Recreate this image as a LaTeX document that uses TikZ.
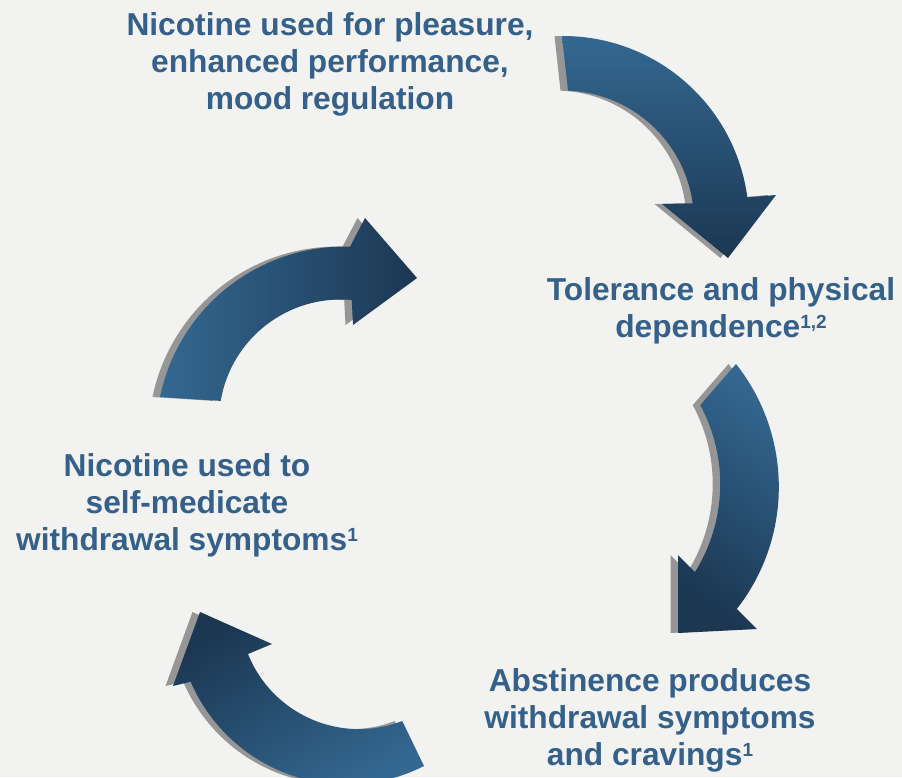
\documentclass[tikz,border=0pt]{standalone}
\usepackage{fontspec}
\setmainfont{Liberation Sans}
\definecolor{bg}{RGB}{242,242,241}
\definecolor{txt}{RGB}{53,96,137}
\definecolor{alight}{RGB}{52,104,145}
\definecolor{adark}{RGB}{27,55,82}
\definecolor{shad}{RGB}{150,150,150}
\newcommand{\supr}[1]{\raisebox{9pt}{\fontsize{19}{19}\selectfont #1}}
\begin{document}
\begin{tikzpicture}[x=1pt,y=1pt,
  lbl/.style={text=txt, font=\fontsize{31.7}{37}\selectfont\bfseries, align=center, inner sep=0pt, anchor=base},
  shadowfill/.style={fill=shad, xshift=-7.5pt}]
\fill[bg] (0,0) rectangle (902,-777);
\useasboundingbox (0,0) rectangle (902,-777);
\clip (0,0) rectangle (902,-777);

\def\arrowA{(562,-36) arc[start angle=90.3, end angle=7.6, radius=186] -- (776,-195) -- (728,-258) -- (662,-204) -- (692.7,-203.3) arc[start angle=8, end angle=87.8, radius=131] -- cycle}
\def\arrowB{(160,-397) arc[start angle=168.3, end angle=88.4, radius=188.7] -- (365,-218) -- (417,-278) -- (353,-325) -- (351.7,-300) arc[start angle=84.8, end angle=170.4, radius=121.7] -- cycle}
\def\arrowC{(736,-364) arc[start angle=38.4, end angle=-38, radius=198] -- (757,-629) -- (678,-633) -- (678,-555) -- (695,-572) arc[start angle=-32, end angle=28.4, radius=166] -- cycle}
\def\arrowD{(424,-766) arc[start angle=297, end angle=203.3, radius=170] -- (173,-686) -- (200,-612) -- (272,-644) -- (248,-654) arc[start angle=201.85, end angle=291.2, radius=119.6] -- cycle}

\fill[shadowfill] \arrowA;
\shade[top color=alight, bottom color=adark] \arrowA;
\fill[shadowfill] \arrowB;
\shade[left color=alight, right color=adark] \arrowB;
\fill[shadowfill] \arrowC;
\shade[top color=alight, bottom color=adark, shading angle=-35] \arrowC;
\fill[shadowfill] \arrowD;
\shade[top color=adark, bottom color=alight, shading angle=30] \arrowD;

\node[lbl] (t1) at (330,-109) {Nicotine used for pleasure,\\enhanced performance,\\mood regulation};
\node[lbl] (t2) at (721,-337) {Tolerance and physical\\dependence\supr{1,2}};
\node[lbl] (t3) at (187,-550) {Nicotine used to\\self-medicate\\withdrawal symptoms\supr{1}};
\node[lbl] (t4) at (650,-765) {Abstinence produces\\withdrawal symptoms\\and cravings\supr{1}};
\end{tikzpicture}
\end{document}
